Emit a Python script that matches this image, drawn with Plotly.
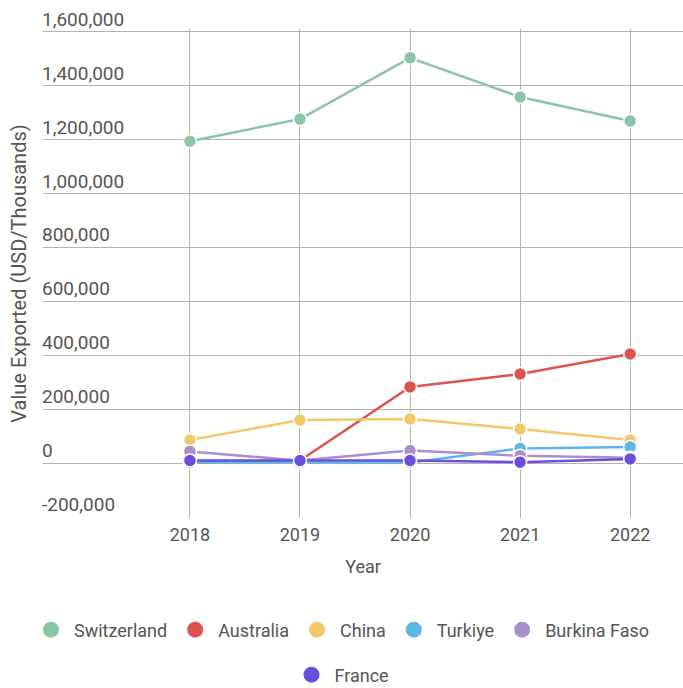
import plotly.graph_objects as go

# Export values (USD thousands) by destination, 2018-2022
years = [2018, 2019, 2020, 2021, 2022]
countries = ["Switzerland", "Australia", "China", "Turkiye", "Burkina Faso", "France"]
switzerland = [1194000, 1276000, 1503000, 1358000, 1269000]
australia = [3000, 10000, 283000, 331000, 405000]
china = [86000, 160000, 164000, 127000, 86000]
turkiye = [3000, 3000, 3000, 55000, 60000]
burkina_faso = [44000, 10000, 47000, 28000, 20000]
france = [10000, 10000, 10000, 4000, 16000]
colors = ["#8cc5a5", "#dc5354", "#f1c96b", "#5db7e5", "#ab8fca", "#6a4fdc"]

y_ticks = [-200000, 0, 200000, 400000, 600000, 800000, 1000000, 1200000, 1400000, 1600000]
y_tick_text = ["-200,000", "0", "200,000", "400,000", "600,000", "800,000",
               "1,000,000", "1,200,000", "1,400,000", "1,600,000"]

series = [switzerland, australia, china, turkiye, burkina_faso, france]

font_col = "#555555"
fs = 18

fig = go.Figure()
for name, vals, col in zip(countries, series, colors):
    fig.add_trace(go.Scatter(
        x=years, y=vals, mode="lines+markers", name=name,
        line=dict(color=col, width=2.5),
        marker=dict(color=col, size=13, line=dict(color="white", width=1.5)),
        showlegend=False, legendgroup=name,
    ))
# legend entries drawn as plain circles; France wraps onto its own centred row
for name, col in zip(countries, colors):
    fig.add_trace(go.Scatter(
        x=[None], y=[None], mode="markers", name=name,
        marker=dict(color=col, size=20), legendgroup=name,
        legend="legend2" if name == "France" else "legend",
    ))

# value labels sit just above their gridlines, at the left edge of the plot
for v, t in zip(y_ticks, y_tick_text):
    fig.add_annotation(
        x=0, xref="paper", xanchor="left", y=v, yref="y", yanchor="bottom",
        text=t, showarrow=False, font=dict(size=19, color=font_col),
        yshift=-1, xshift=-3,
    )

legend_style = dict(
    orientation="h", xref="container", x=0.5, xanchor="center",
    yref="container", yanchor="middle",
    font=dict(size=fs, color=font_col), itemsizing="trace",
    tracegroupgap=0, itemwidth=36,
)

fig.update_layout(
    width=683, height=688,
    margin=dict(l=43, r=0, t=29.3, b=169.5),
    paper_bgcolor="white", plot_bgcolor="white",
    font=dict(family="Roboto", size=fs, color=font_col),
    showlegend=True,
    legend=dict(legend_style, y=1 - 630 / 688),
    legend2=dict(legend_style, y=1 - 675 / 688),
    xaxis=dict(
        range=[2016.665, 2022.48], tickvals=years, ticktext=[str(y) for y in years],
        showgrid=True, gridcolor="#b3b3b3", gridwidth=1, zeroline=False,
        showline=False, ticks="", ticklabelstandoff=4,
        tickfont=dict(size=fs, color=font_col),
        title=dict(text="Year", standoff=16, font=dict(size=fs, color=font_col)),
        automargin=False,
    ),
    yaxis=dict(
        range=[-203000, 1610000], tickvals=y_ticks, showticklabels=False,
        showgrid=True, gridcolor="#b3b3b3", gridwidth=1,
        zeroline=True, zerolinecolor="#b3b3b3", zerolinewidth=1,
        showline=False, ticks="",
        title=dict(text="Value Exported (USD/Thousands)", standoff=10,
                   font=dict(size=20, color=font_col)),
        automargin=False,
    ),
)

fig.write_html("out.html")
